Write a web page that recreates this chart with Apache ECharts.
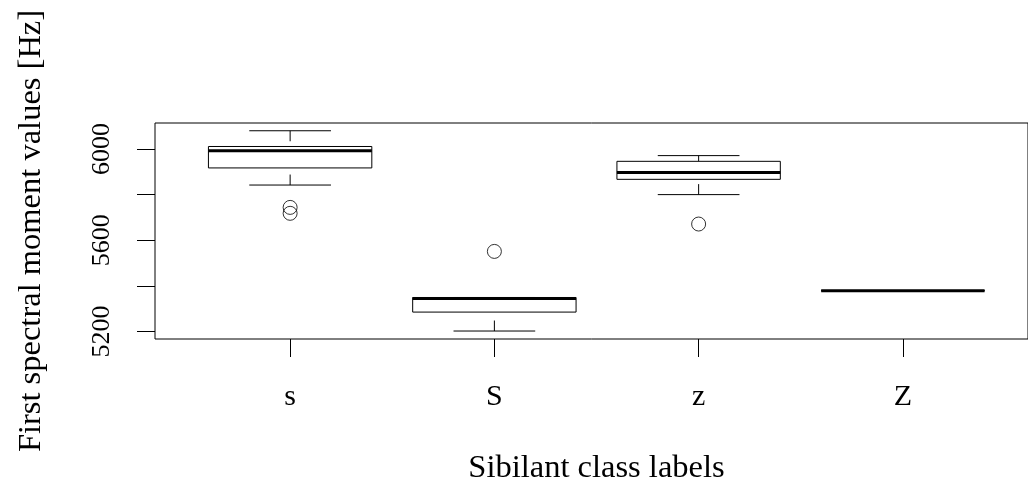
<!DOCTYPE html>
<html>
<head>
<meta charset="utf-8">
<script src="https://cdn.jsdelivr.net/npm/echarts@6/dist/echarts.min.js"></script>
<style>
  html, body { margin: 0; padding: 0; background: #fff; overflow: hidden; }
  #chart { width: 1028px; height: 488px; }
</style>
</head>
<body>
<div id="chart"></div>
<script>
// sibilant classes on the x axis
const categories = ["s", "S", "z", "Z"];

// five-number summaries per class (Hz)
const whiskerLow = [5842, 5202, 5800, 5379];
const lowerQuartile = [5917, 5285, 5867, 5379];
const medians = [5992, 5345, 5897, 5379];
const upperQuartile = [6011, 5349, 5946, 5379];
const whiskerHigh = [6080, 5349, 5971, 5379];

// outliers as [class index, value]
const outliers = [[0, 5744], [0, 5718], [1, 5551], [2, 5671]];

// y axis
const yTicks = [5200, 5400, 5600, 5800, 6000];
const yLabels = [5200, 5600, 6000];
const yMin = 5167;
const yMax = 6114;

const FONT = "Liberation Serif";

const chart = echarts.init(document.getElementById("chart"), null, { renderer: "canvas" });

const boxData = categories.map((c, i) => [
  i, whiskerLow[i], lowerQuartile[i], medians[i], upperQuartile[i], whiskerHigh[i]
]);

function renderBox(params, api) {
  const i = api.value(0);
  const lo = api.coord([i, api.value(1)]);
  const q1 = api.coord([i, api.value(2)]);
  const med = api.coord([i, api.value(3)]);
  const q3 = api.coord([i, api.value(4)]);
  const hi = api.coord([i, api.value(5)]);
  const band = api.size([1, 0])[0];
  const half = band * 0.4;
  const staple = half / 2;
  const x = lo[0];
  const thin = { stroke: "#000", lineWidth: 1, fill: null };
  const dashed = { stroke: "#000", lineWidth: 1, lineDash: [10.5, 10.5] };
  return {
    type: "group",
    children: [
      { type: "line", shape: { x1: x, y1: lo[1], x2: x, y2: q1[1] }, style: dashed },
      { type: "line", shape: { x1: x, y1: hi[1], x2: x, y2: q3[1] }, style: dashed },
      { type: "line", shape: { x1: x - staple, y1: lo[1], x2: x + staple, y2: lo[1] }, style: thin },
      { type: "line", shape: { x1: x - staple, y1: hi[1], x2: x + staple, y2: hi[1] }, style: thin },
      { type: "rect", shape: { x: x - half, y: q3[1], width: half * 2, height: q1[1] - q3[1] },
        style: { stroke: "#000", lineWidth: 1, fill: "#fff" } },
      { type: "line", shape: { x1: x - half, y1: med[1], x2: x + half, y2: med[1] },
        style: { stroke: "#000", lineWidth: 3 } }
    ]
  };
}

const option = {
  backgroundColor: "#fff",
  animation: false,
  textStyle: { fontFamily: FONT, color: "#000" },
  grid: [
    { left: 155, top: 123, width: 883, height: 216, show: true,
      borderColor: "#000", borderWidth: 1, backgroundColor: "transparent" },
    { left: 188, top: 123, width: 817, height: 216 }
  ],
  xAxis: [
    { gridIndex: 0, type: "value", min: 0, max: 1, show: false },
    {
      gridIndex: 1,
      type: "category",
      data: categories,
      boundaryGap: true,
      axisLine: { show: false },
      axisTick: { show: true, alignWithLabel: true, length: 18, lineStyle: { color: "#000", width: 1 } },
      axisLabel: { margin: 43, fontFamily: FONT, fontSize: 30, lineHeight: 30, color: "#000" },
      splitLine: { show: false },
      name: "Sibilant class labels",
      nameLocation: "middle",
      nameGap: 113,
      nameTextStyle: { fontFamily: FONT, fontSize: 32.5, lineHeight: 32, color: "#000" }
    }
  ],
  yAxis: [
    {
      gridIndex: 0,
      type: "value",
      min: yMin,
      max: yMax,
      axisLine: { show: false },
      splitLine: { show: false },
      axisTick: { show: true, length: 18, customValues: yTicks, lineStyle: { color: "#000", width: 1 } },
      axisLabel: { rotate: 90, margin: 40, customValues: yLabels, fontFamily: FONT,
        fontSize: 26, lineHeight: 26, color: "#000", formatter: (v) => String(v) },
      name: "First spectral moment values [Hz]",
      nameLocation: "middle",
      nameRotate: 90,
      nameGap: 108,
      nameTextStyle: { fontFamily: FONT, fontSize: 32.5, lineHeight: 32, color: "#000" }
    },
    { gridIndex: 1, type: "value", min: yMin, max: yMax, show: false }
  ],
  series: [
    {
      type: "custom",
      xAxisIndex: 1,
      yAxisIndex: 1,
      data: boxData,
      renderItem: renderBox,
      encode: { x: 0, y: [1, 2, 3, 4, 5] }
    },
    {
      type: "scatter",
      xAxisIndex: 1,
      yAxisIndex: 1,
      data: outliers,
      symbol: "circle",
      symbolSize: 14,
      itemStyle: { color: "transparent", borderColor: "#000", borderWidth: 1 }
    }
  ]
};

chart.setOption(option);
</script>
</body>
</html>
